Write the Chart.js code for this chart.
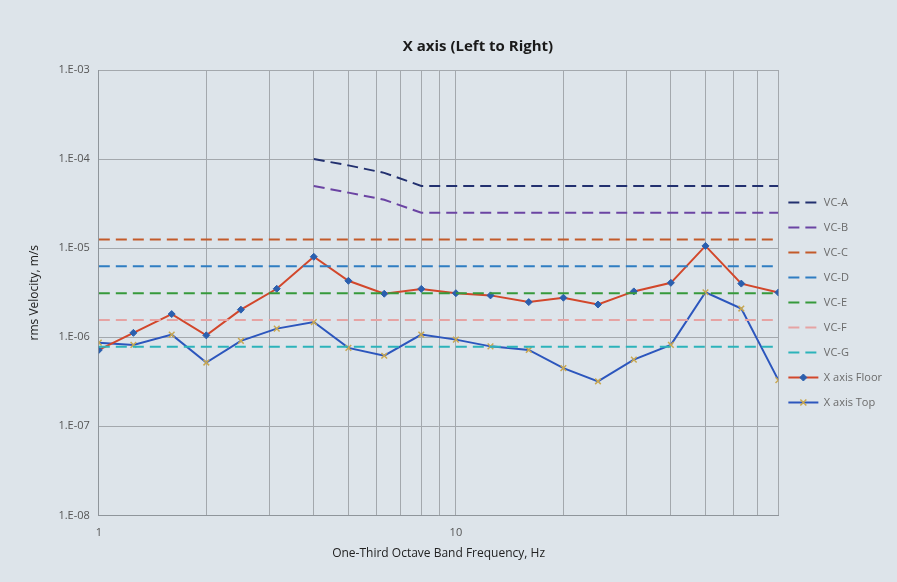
<!DOCTYPE html>
<html>
<head>
<meta charset="utf-8">
<script src="https://cdn.jsdelivr.net/npm/chart.js@4.4.0/dist/chart.umd.min.js"></script>
<style>
  html, body { margin: 0; padding: 0; background: #dde4ea; }
  #wrap { width: 897px; height: 582px; position: relative; }
</style>
</head>
<body>
<div id="wrap"><canvas id="chart"></canvas></div>
<script>
// One-third octave band centre frequencies, Hz
const bandFreqs = [1, 1.25, 1.6, 2, 2.5, 3.15, 4, 5, 6.3, 8, 10, 12.5, 16, 20, 25, 31.5, 40, 50, 63, 80];

// Measured rms velocity, m/s
const floorVel = [7.2e-7, 1.12e-6, 1.82e-6, 1.05e-6, 2.04e-6, 3.5e-6, 8.0e-6, 4.3e-6, 3.08e-6, 3.49e-6,
                  3.12e-6, 2.95e-6, 2.48e-6, 2.78e-6, 2.33e-6, 3.27e-6, 4.08e-6, 1.06e-5, 4.0e-6, 3.18e-6];
const topVel = [8.7e-7, 8.2e-7, 1.07e-6, 5.2e-7, 9.1e-7, 1.25e-6, 1.48e-6, 7.6e-7, 6.2e-7, 1.07e-6,
                9.4e-7, 7.9e-7, 7.2e-7, 4.5e-7, 3.2e-7, 5.6e-7, 8.2e-7, 3.2e-6, 2.1e-6, 3.3e-7];

// Vibration criteria curves
const vcSlopeFreqs = [4, 5, 6.3, 8, 80];
const vcA = [1.0e-4, 8.5e-5, 7.0e-5, 5.0e-5, 5.0e-5];
const vcB = [5.0e-5, 4.2e-5, 3.5e-5, 2.5e-5, 2.5e-5];
const vcFlatFreqs = [1, 80];
const vcC = [1.25e-5, 1.25e-5];
const vcD = [6.25e-6, 6.25e-6];
const vcE = [3.12e-6, 3.12e-6];
const vcF = [1.56e-6, 1.56e-6];
const vcG = [7.8e-7, 7.8e-7];

// Axis ticks
const xGridFreqs = [1, 2, 3, 4, 5, 6, 7, 8, 9, 10, 20, 30, 40, 50, 60, 70, 80];
const xLabelFreqs = [1, 10];
const yDecades = [1e-8, 1e-7, 1e-6, 1e-5, 1e-4, 1e-3];

const FONT = '"Open Sans", "Noto Sans", sans-serif';
const SAMPLE_W = 30;
const LEGEND_SHIFT = 13;

const toPoints = (xs, ys) => xs.map((x, i) => ({ x, y: ys[i] }));

const critLine = (label, xs, ys, color) => ({
  label,
  data: toPoints(xs, ys),
  borderColor: color,
  backgroundColor: color,
  borderWidth: 2,
  borderDash: [11, 6],
  pointRadius: 0,
  tension: 0
});

// Chart title, placed like the Excel one (centred over plot + legend)
const titlePlugin = {
  id: 'excelTitle',
  afterDraw(chart) {
    const ctx = chart.ctx;
    ctx.save();
    ctx.font = 'bold 15px ' + FONT;
    ctx.fillStyle = '#1a1a1a';
    ctx.textAlign = 'center';
    ctx.textBaseline = 'middle';
    ctx.fillText('X axis (Left to Right)', 478, 47);
    ctx.restore();
  }
};

// Nudge the legend column up a little and left, like Excel's
const legendNudge = {
  id: 'legendNudge',
  afterLayout(chart) {
    const legend = chart.legend;
    if (!legend) return;
    legend.top -= LEGEND_SHIFT;
    legend.bottom -= LEGEND_SHIFT;
    legend.left -= 4;
    legend.right -= 4;
  }
};

// Legend samples: dashed lines for criteria, line + marker for the series
const legendSamples = {
  id: 'legendSamples',
  afterDraw(chart) {
    const legend = chart.legend;
    if (!legend || !legend.legendHitBoxes) return;
    const ctx = chart.ctx;
    legend.legendItems.forEach((item, i) => {
      const ds = chart.data.datasets[item.datasetIndex];
      const box = legend.legendHitBoxes[i];
      const x0 = box.left;
      const cy = box.top + box.height / 2;
      ctx.save();
      ctx.strokeStyle = ds.borderColor;
      ctx.lineWidth = ds.borderWidth;
      ctx.setLineDash(ds.borderDash || []);
      ctx.beginPath();
      ctx.moveTo(x0, cy);
      ctx.lineTo(x0 + SAMPLE_W, cy);
      ctx.stroke();
      if (ds.pointRadius) {
        const cx = x0 + SAMPLE_W / 2;
        ctx.setLineDash([]);
        ctx.fillStyle = ds.pointBackgroundColor;
        ctx.strokeStyle = ds.pointBorderColor;
        ctx.lineWidth = ds.pointBorderWidth;
        ctx.beginPath();
        if (ds.pointStyle === 'rectRot') {
          const r = ds.pointRadius;
          ctx.moveTo(cx, cy - r); ctx.lineTo(cx + r, cy); ctx.lineTo(cx, cy + r); ctx.lineTo(cx - r, cy);
          ctx.closePath(); ctx.fill(); ctx.stroke();
        } else {
          const r = ds.pointRadius * 0.75;
          ctx.moveTo(cx - r, cy - r); ctx.lineTo(cx + r, cy + r);
          ctx.moveTo(cx + r, cy - r); ctx.lineTo(cx - r, cy + r);
          ctx.stroke();
        }
      }
      ctx.restore();
    });
  }
};

const chart = new Chart(document.getElementById('chart'), {
  type: 'line',
  data: {
    datasets: [
      critLine('VC-A', vcSlopeFreqs, vcA, '#22306f'),
      critLine('VC-B', vcSlopeFreqs, vcB, '#6b44a3'),
      critLine('VC-C', vcFlatFreqs, vcC, '#c35a2a'),
      critLine('VC-D', vcFlatFreqs, vcD, '#2f7dc2'),
      critLine('VC-E', vcFlatFreqs, vcE, '#36993b'),
      critLine('VC-F', vcFlatFreqs, vcF, '#e6a3a3'),
      critLine('VC-G', vcFlatFreqs, vcG, '#2cb3ba'),
      {
        label: 'X axis Floor',
        data: toPoints(bandFreqs, floorVel),
        borderColor: '#d2472b',
        backgroundColor: '#d2472b',
        borderWidth: 2,
        pointStyle: 'rectRot',
        pointRadius: 3.5,
        pointBorderWidth: 1,
        pointBackgroundColor: '#2b5fae',
        pointBorderColor: '#2b5fae',
        tension: 0
      },
      {
        label: 'X axis Top',
        data: toPoints(bandFreqs, topVel),
        borderColor: '#2c56bd',
        backgroundColor: '#2c56bd',
        borderWidth: 2,
        pointStyle: 'crossRot',
        pointRadius: 4,
        pointBorderWidth: 1.5,
        pointBackgroundColor: '#c9a851',
        pointBorderColor: '#c9a851',
        tension: 0
      }
    ]
  },
  options: {
    responsive: true,
    maintainAspectRatio: false,
    animation: false,
    layout: { padding: { top: 70, left: 27, right: 1, bottom: 21 } },
    plugins: {
      title: { display: false },
      tooltip: { enabled: false },
      legend: {
        position: 'right',
        labels: {
          usePointStyle: true,
          pointStyle: 'line',
          pointStyleWidth: SAMPLE_W,
          boxWidth: SAMPLE_W,
          padding: 14,
          color: '#6b6b6b',
          font: { family: FONT, size: 11 },
          generateLabels: chart => Chart.defaults.plugins.legend.labels.generateLabels(chart).map(item => ({
            ...item,
            strokeStyle: 'rgba(0,0,0,0)',
            fillStyle: 'rgba(0,0,0,0)',
            lineWidth: 0
          }))
        }
      }
    },
    scales: {
      x: {
        type: 'logarithmic',
        min: 1,
        max: 80,
        afterBuildTicks: scale => {
          scale.ticks = xGridFreqs.map(v => ({ value: v }));
        },
        ticks: {
          autoSkip: false,
          maxRotation: 0,
          padding: 11,
          color: '#555',
          font: { family: FONT, size: 11 },
          callback: v => (xLabelFreqs.includes(v) ? String(v) : '')
        },
        grid: { color: '#a3a8ad', lineWidth: 1, drawTicks: false },
        border: { color: '#8f959b', width: 1 },
        title: {
          display: true,
          text: 'One-Third Octave Band Frequency, Hz',
          color: '#222',
          font: { family: FONT, size: 12 },
          padding: { top: -4, bottom: 0 }
        }
      },
      y: {
        type: 'logarithmic',
        min: 1e-8,
        max: 1e-3,
        afterBuildTicks: scale => {
          scale.ticks = yDecades.map(v => ({ value: v }));
        },
        ticks: {
          autoSkip: false,
          padding: 9,
          color: '#555',
          font: { family: FONT, size: 11 },
          callback: v => '1.E-' + String(Math.round(-Math.log10(v))).padStart(2, '0')
        },
        grid: { color: '#a3a8ad', lineWidth: 1, drawTicks: false },
        border: { color: '#8f959b', width: 1 },
        title: {
          display: true,
          text: 'rms Velocity, m/s',
          color: '#222',
          font: { family: FONT, size: 12 },
          padding: { top: 0, bottom: 8 }
        }
      }
    }
  },
  plugins: [titlePlugin, legendNudge, legendSamples]
});
</script>
</body>
</html>
